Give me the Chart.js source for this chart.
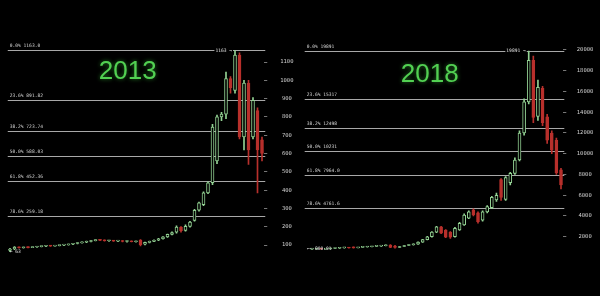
<!DOCTYPE html>
<html>
<head>
<meta charset="utf-8">
<script src="https://cdn.jsdelivr.net/npm/chart.js@4.4.1/dist/chart.umd.min.js"></script>
<style>
  html, body { margin: 0; padding: 0; background: #000; }
  #wrap { position: relative; width: 600px; height: 296px; background: #000; overflow: hidden; }
  canvas { position: absolute; top: 0; }
</style>
</head>
<body>
<div id="wrap">
  <canvas id="c2013" width="300" height="296" style="left:0"></canvas>
  <canvas id="c2018" width="300" height="296" style="left:300px"></canvas>
</div>
<script>
// 2013 run, one candle per period
const open2013  = [70, 78, 86, 85, 87, 86, 89, 91, 93, 95, 94, 97, 99, 101, 104, 108, 112, 115, 119, 124,
                   128, 125, 123, 124, 121, 122, 119, 121, 118, 127, 104, 114, 120, 126, 134, 144, 158, 170, 198, 180,
                   202, 235, 290, 320, 385, 440, 560, 800, 815, 1010, 945, 1138, 690, 985, 690, 835, 675];
const high2013  = [82, 92, 90, 89, 90, 90, 92, 94, 96, 97, 98, 100, 102, 105, 109, 113, 117, 121, 126, 130,
                   130, 128, 126, 126, 124, 124, 123, 123, 122, 130, 116, 122, 128, 136, 146, 160, 172, 205, 200, 210,
                   230, 295, 335, 390, 445, 760, 810, 825, 1045, 1020, 1163, 1150, 1000, 1000, 905, 850, 690];
const low2013   = [63, 75, 82, 83, 84, 85, 87, 89, 91, 92, 93, 95, 97, 99, 102, 106, 110, 113, 117, 122,
                   123, 121, 120, 119, 118, 117, 116, 117, 115, 95, 100, 112, 118, 124, 132, 142, 155, 165, 170, 176,
                   198, 230, 285, 315, 380, 430, 545, 780, 790, 930, 930, 680, 620, 540, 680, 385, 560];
const close2013 = [78, 88, 85, 87, 86, 89, 91, 93, 95, 94, 97, 99, 101, 104, 108, 112, 115, 119, 124, 128,
                   125, 123, 124, 121, 122, 119, 121, 118, 120, 102, 114, 120, 126, 134, 144, 158, 168, 198, 178, 202,
                   225, 290, 330, 385, 440, 745, 800, 815, 1010, 960, 1138, 690, 985, 620, 890, 620, 600];

// 2017-2018 run
const open2018  = [800, 815, 825, 812, 845, 870, 890, 920, 950, 1000, 930, 980, 1010, 1040, 1070, 1090, 1130, 1200, 1100, 960,
                   1060, 1160, 1230, 1290, 1480, 1720, 2000, 2450, 2950, 2650, 2450, 2000, 2650, 3150, 3800, 4600, 4300, 3600, 4400, 4800,
                   5550, 7500, 5600, 7200, 8100, 9400, 12000, 15000, 19000, 13600, 16300, 13550, 12000, 11300, 8450];
const high2018  = [830, 835, 840, 850, 880, 900, 930, 960, 975, 1030, 990, 1020, 1050, 1080, 1110, 1150, 1220, 1250, 1180, 1080,
                   1180, 1250, 1320, 1500, 1750, 2050, 2500, 3000, 3000, 2700, 2500, 2900, 3400, 4200, 4500, 4700, 4400, 4500, 5000, 5900,
                   6200, 7600, 7800, 8200, 9600, 12200, 15300, 19891, 19400, 17100, 16500, 13800, 12200, 11500, 8600];
const low2018   = [790, 800, 805, 805, 835, 860, 880, 900, 900, 910, 920, 960, 995, 1020, 1050, 1070, 1110, 950, 900, 940,
                   1040, 1140, 1200, 1270, 1460, 1700, 1950, 2400, 2300, 1900, 1850, 1950, 2600, 3100, 3750, 4000, 3300, 3500, 4300, 4700,
                   5400, 5500, 5500, 7000, 8000, 9300, 11800, 14800, 13000, 13200, 12700, 11000, 10000, 8000, 6600];
const close2018 = [815, 825, 812, 845, 870, 890, 920, 950, 915, 930, 980, 1010, 1040, 1070, 1090, 1130, 1200, 980, 960, 1060,
                   1160, 1230, 1290, 1480, 1720, 2000, 2450, 2950, 2350, 1950, 1950, 2800, 3300, 4100, 4400, 4100, 3450, 4400, 4900, 5800,
                   6000, 5800, 7700, 8100, 9400, 12000, 15000, 19000, 13500, 16400, 13000, 11300, 10350, 8150, 7000];

// fibonacci retracement levels
const fibLevels = ['0.0%', '23.6%', '38.2%', '50.0%', '61.8%', '78.6%'];
const fibValues2013 = [1163.0, 891.82, 723.74, 588.03, 452.36, 259.18];
const fibText2013 = ['1163.0', '891.82', '723.74', '588.03', '452.36', '259.18'];
const fibValues2018 = [19891, 15317, 12498, 10231, 7964.0, 4761.6];
const fibText2018 = ['19891', '15317', '12498', '10231', '7964.0', '4761.6'];

// y axis ticks
const ticks2013 = [100, 200, 300, 400, 500, 600, 700, 800, 900, 1000, 1100];
const ticks2018 = [2000, 4000, 6000, 8000, 10000, 12000, 14000, 16000, 18000, 20000];

const UP = '#93d293';
const DOWN = '#b8302c';

const fibo = {
  id: 'fibo',
  beforeDatasetsDraw(chart, args, opts) {
    const { ctx, chartArea: a, scales: { y } } = chart;
    ctx.save();
    // big year text
    ctx.font = '26px "Liberation Sans", Arial, sans-serif';
    ctx.textAlign = 'center';
    ctx.textBaseline = 'middle';
    ctx.shadowColor = 'rgba(60,200,60,0.6)';
    ctx.shadowBlur = 4;
    ctx.fillStyle = '#52d052';
    ctx.fillText(opts.year, a.left + opts.yearDx, opts.yearY);
    ctx.shadowBlur = 0;

    ctx.strokeStyle = '#a8a8a8';
    ctx.lineWidth = 1;
    ctx.font = '4.6px "DejaVu Sans Mono", monospace';
    ctx.fillStyle = '#d6d6d6';
    ctx.textAlign = 'left';
    ctx.textBaseline = 'bottom';
    opts.values.forEach((v, i) => {
      const py = Math.round(y.getPixelForValue(v)) + 0.5;
      ctx.beginPath();
      ctx.moveTo(a.left + opts.lineFrom, py);
      ctx.lineTo(a.right + 1, py);
      ctx.stroke();
      ctx.fillText(fibLevels[i] + ' ' + opts.texts[i], a.left + opts.textFrom, py - 2);
    });
    ctx.restore();
  },
  afterDatasetsDraw(chart, args, opts) {
    const { ctx, chartArea: a, scales: { x, y } } = chart;
    ctx.save();
    ctx.font = '4.6px "DejaVu Sans Mono", monospace';
    ctx.textBaseline = 'middle';
    // high marker
    const hx = x.getPixelForValue(opts.peak) - 3;
    const hy = y.getPixelForValue(opts.peakValue);
    const w = ctx.measureText(opts.peakText).width;
    ctx.fillStyle = '#000';
    ctx.fillRect(hx - w - 1, hy - 2.5, w + 2, 5);
    ctx.fillStyle = '#e0e0e0';
    ctx.textAlign = 'right';
    ctx.fillText(opts.peakText, hx, hy);
    // low marker
    ctx.textAlign = 'left';
    ctx.fillText(opts.lowText, a.left + opts.textFrom, y.getPixelForValue(opts.lowValue));
    ctx.restore();
  }
};

function candleChart(id, c) {
  const up = c.close.map((v, i) => v >= c.open[i]);
  const color = up.map(u => (u ? UP : DOWN));
  return new Chart(document.getElementById(id), {
    type: 'bar',
    plugins: [fibo],
    data: {
      labels: c.open.map((_, i) => String(i + 1)),
      datasets: [
        {
          data: c.open.map((o, i) => [o, c.close[i]]),
          backgroundColor: up.map(u => (u ? '#000' : DOWN)),
          borderColor: color,
          borderWidth: 1,
          borderSkipped: false,
          barThickness: 3,
          minBarLength: 1,
          grouped: false,
          order: 0
        },
        {
          data: c.low.map((l, i) => [l, c.high[i]]),
          backgroundColor: color,
          borderWidth: 0,
          barThickness: 1,
          grouped: false,
          order: 1
        }
      ]
    },
    options: {
      responsive: false,
      animation: false,
      events: [],
      layout: { padding: c.padding },
      plugins: {
        legend: { display: false },
        tooltip: { enabled: false },
        fibo: c.fib
      },
      scales: {
        x: { display: false, offset: true },
        y: {
          position: 'right',
          min: 0,
          max: c.max,
          afterBuildTicks: s => { s.ticks = c.ticks.map(v => ({ value: v })); },
          afterFit: s => { s.width = c.axisWidth; },
          border: { display: false },
          grid: { drawOnChartArea: false, tickLength: 3, color: '#777' },
          ticks: {
            color: '#cfcfcf',
            crossAlign: 'center',
            padding: c.tickPad,
            callback: v => String(v),
            font: { family: '"DejaVu Sans Mono", monospace', size: 5.5 }
          }
        }
      }
    }
  });
}

candleChart('c2013', {
  open: open2013, high: high2013, low: low2013, close: close2013,
  ticks: ticks2013, max: 1200,
  padding: { left: 7.75, top: 43.7, bottom: 32.7, right: 0 },
  axisWidth: 35.75, tickPad: 13,
  fib: {
    year: '2013', yearDx: 120, yearY: 72,
    values: fibValues2013, texts: fibText2013,
    lineFrom: 0, textFrom: 2,
    peak: 50, peakValue: 1163, peakText: '1163 \u2192',
    lowValue: 63, lowText: '\u2190 63'
  }
});

candleChart('c2018', {
  open: open2018, high: high2018, low: low2018, close: close2018,
  ticks: ticks2018, max: 21000,
  padding: { left: 9.7, top: 39.6, bottom: 38.5, right: 0 },
  axisWidth: 36.7, tickPad: 10.5,
  fib: {
    year: '2018', yearDx: 120, yearY: 75,
    values: fibValues2018, texts: fibText2018,
    lineFrom: -5, textFrom: -3,
    peak: 47, peakValue: 19891, peakText: '19891 \u2192',
    lowValue: 800, lowText: '\u2190\u2014 800.91'
  }
});
</script>
</body>
</html>
